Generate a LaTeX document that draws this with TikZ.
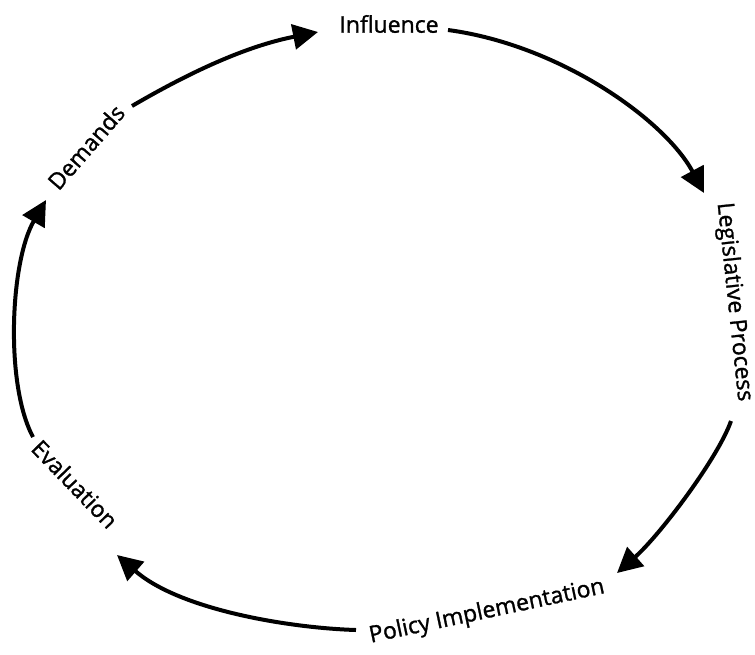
\documentclass[tikz,border=0pt]{standalone}
\usepackage{fontspec}
\setmainfont{Open Sans}[FakeBold=1.2]
\usetikzlibrary{arrows.meta}
\begin{document}
\begin{tikzpicture}[x=1pt,y=-1pt,
  lbl/.style={font=\fontsize{23}{26}\selectfont, inner sep=0pt, anchor=center},
  cyc/.style={line width=4pt, -{Triangle[length=25pt,width=25pt]}}]
\useasboundingbox[fill=white] (0,0) rectangle (755,654);
% labels
\node[lbl, rotate=49]  (dem) at (86,147) {Demands};
\node[lbl]             (inf) at (389,24) {Influence};
\node[lbl, rotate=-84] (leg) at (734,302) {Legislative Process};
\node[lbl, rotate=12]  (pol) at (487,612) {Policy Implementation};
\node[lbl, rotate=-46] (eva) at (75,484) {Evaluation};
% connector ends
\coordinate (d1) at (132,106);  \coordinate (i0) at (318,32);
\coordinate (i1) at (448,30);   \coordinate (l0) at (704,193);
\coordinate (l1) at (731,421);  \coordinate (p0) at (617,573);
\coordinate (p1) at (356,630);  \coordinate (e0) at (117,555);
\coordinate (e1) at (33,437);   \coordinate (d0) at (46,200);
% connectors
\draw[cyc] (d1) .. controls (192,71) and (247,46) .. (i0);
\draw[cyc] (i1) .. controls (560,45) and (665,120) .. (l0);
\draw[cyc] (l1) .. controls (718,458) and (660,535) .. (p0);
\draw[cyc] (p1) .. controls (290,628) and (180,610) .. (e0);
\draw[cyc] (e1) .. controls (5,385) and (10,262) .. (d0);
\end{tikzpicture}
\end{document}
